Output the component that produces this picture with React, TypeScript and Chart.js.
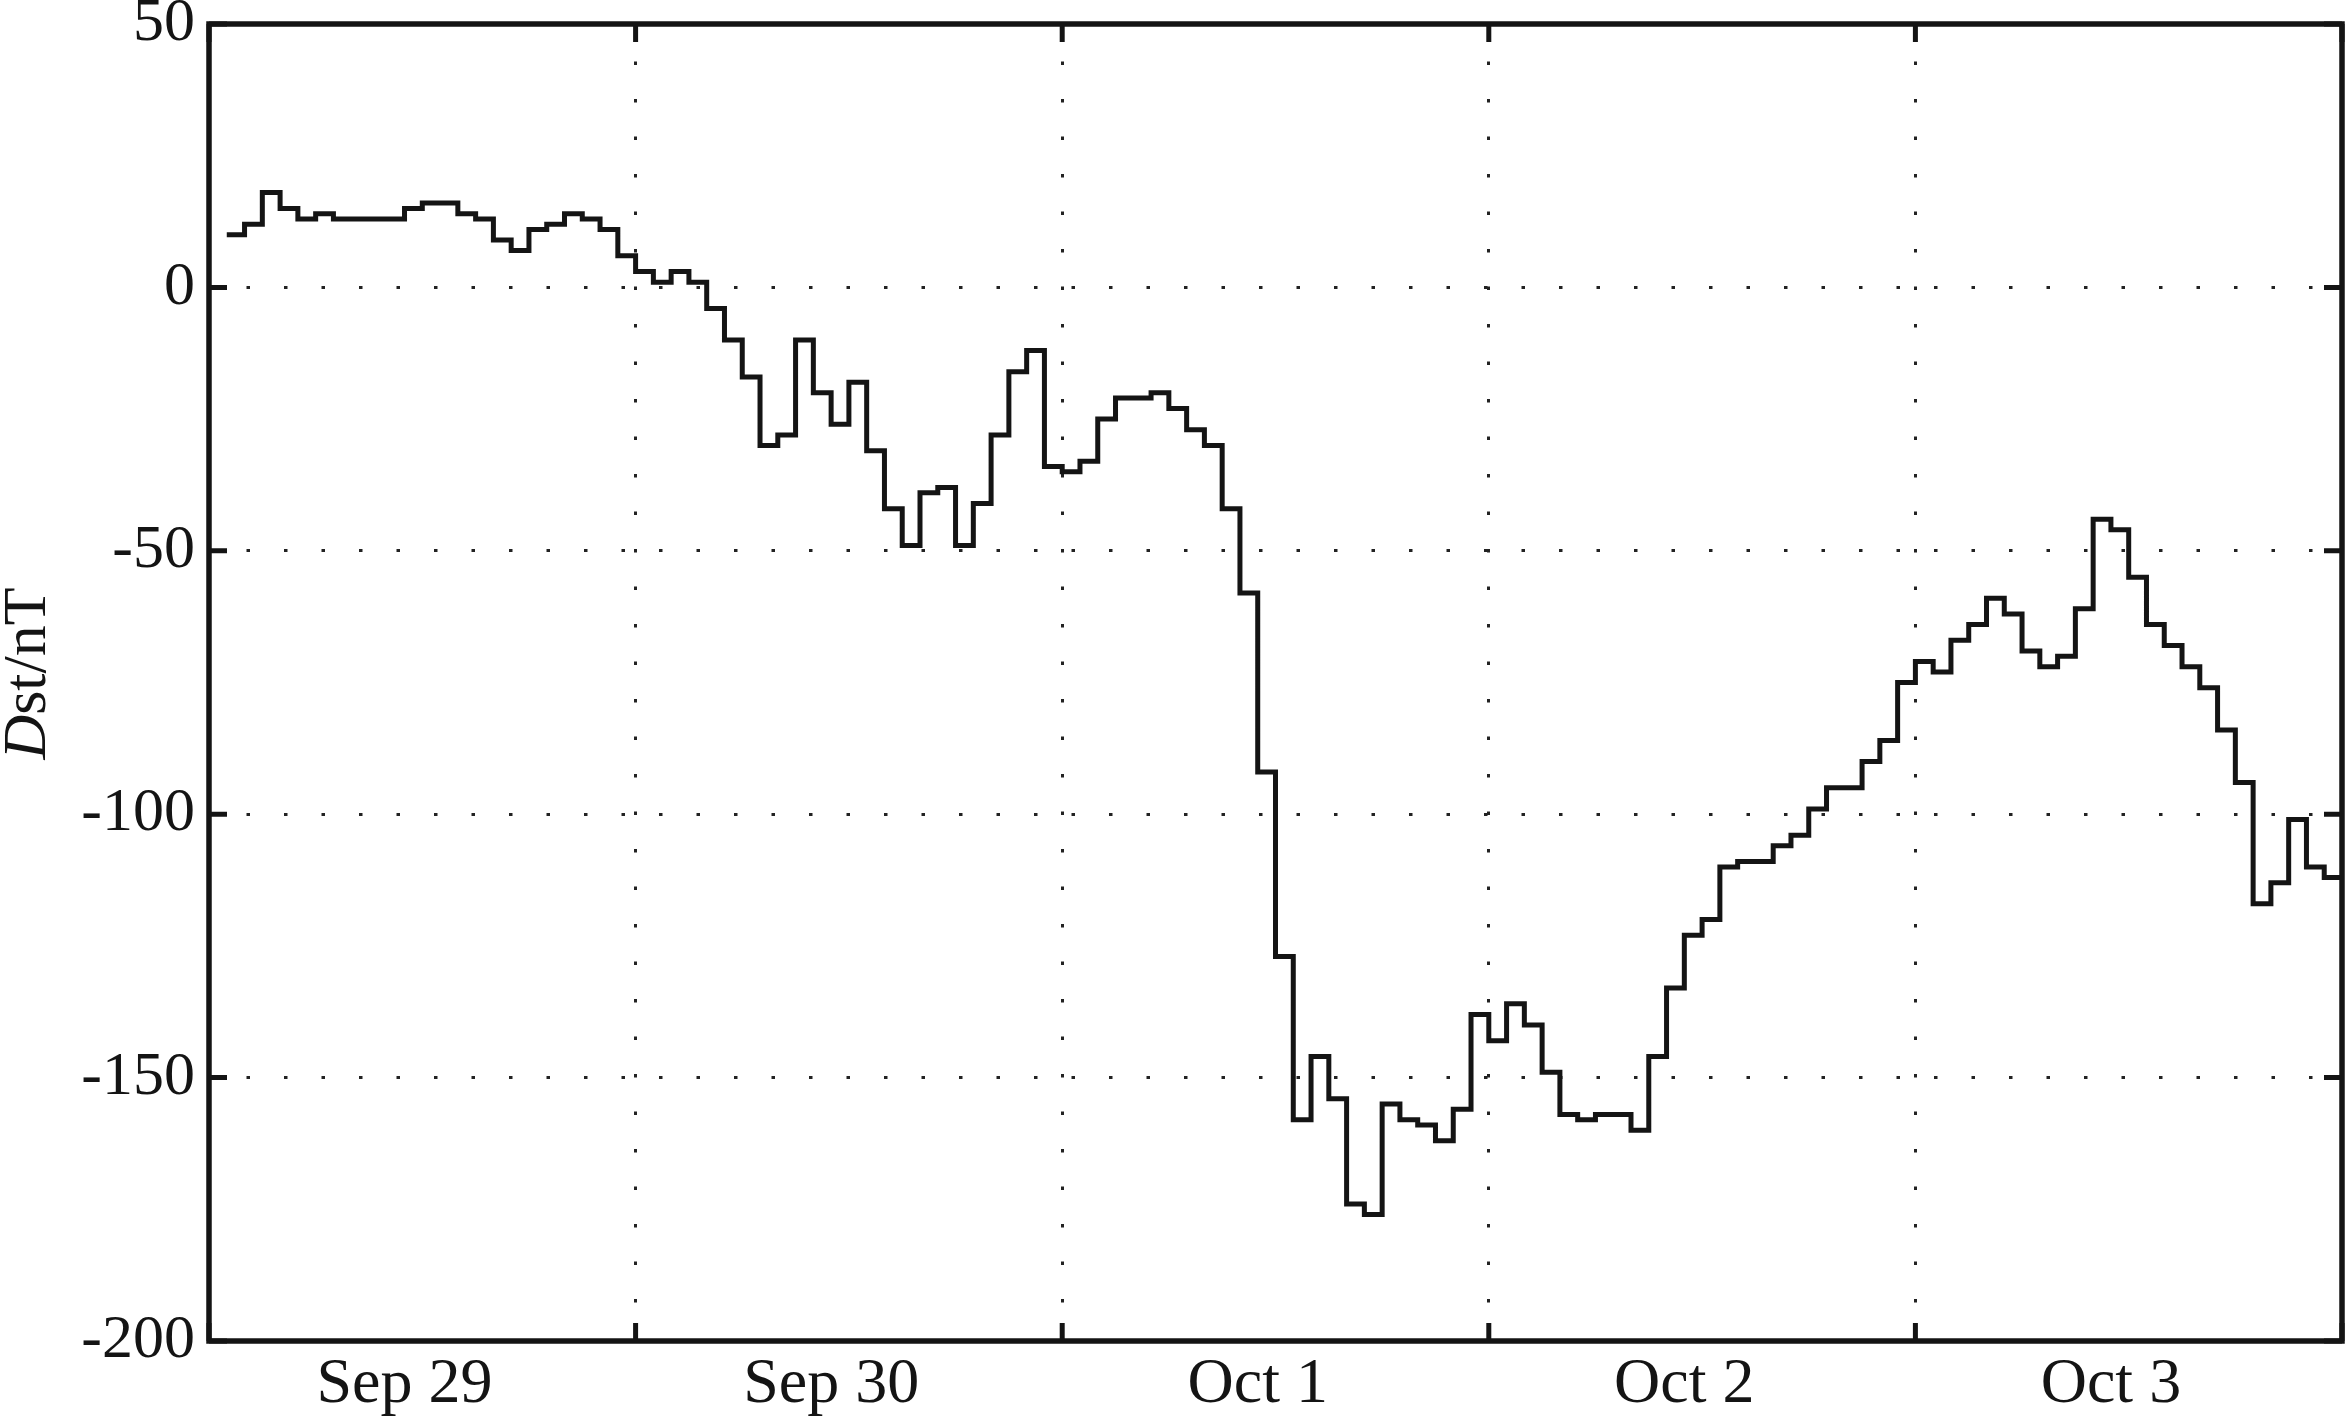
import React, { useEffect, useRef } from 'react';
import { Chart, registerables } from 'chart.js';

Chart.register(...registerables);

// ---- data ----
const dayLabels = ['Sep 29', 'Sep 30', 'Oct 1', 'Oct 2', 'Oct 3'];
const dayBoundaryHours = [0, 24, 48, 72, 96, 120];
const labelHours = [11, 35, 59, 83, 107];
const firstHour = 1;
const yTicks = [-200, -150, -100, -50, 0, 50];

// hourly Dst (nT), hour 1 .. 119, each value held for one hour
const dstValues = [
  10, 12, 18, 15, 13, 14, 13, 13, 13, 13,
  15, 16, 16, 14, 13, 9, 7, 11, 12, 14,
  13, 11, 6, 3, 1, 3, 1, -4, -10, -17,
  -30, -28, -10, -20, -26, -18, -31, -42, -49, -39,
  -38, -49, -41, -28, -16, -12, -34, -35, -33, -25,
  -21, -21, -20, -23, -27, -30, -42, -58, -92, -127,
  -158, -146, -154, -174, -176, -155, -158, -159, -162, -156,
  -138, -143, -136, -140, -149, -157, -158, -157, -157, -160,
  -146, -133, -123, -120, -110, -109, -109, -106, -104, -99,
  -95, -95, -90, -86, -75, -71, -73, -67, -64, -59,
  -62, -69, -72, -70, -61, -44, -46, -55, -64, -68,
  -72, -76, -84, -94, -117, -113, -101, -110, -112,
];

const FONT = "'Liberation Serif', 'Times New Roman', serif";
const INK = '#141414';

const framePlugin = {
  id: 'frame',
  afterDraw(chart: any) {
    const { ctx, chartArea: a, scales } = chart;
    const xs = scales.x;
    const ys = scales.y;
    ctx.save();
    ctx.strokeStyle = INK;
    ctx.lineCap = 'butt';
    ctx.lineWidth = 5;
    ctx.beginPath();
    yTicks.forEach((v) => {
      const py = ys.getPixelForValue(v);
      ctx.moveTo(a.left, py);
      ctx.lineTo(a.left + 18, py);
      ctx.moveTo(a.right, py);
      ctx.lineTo(a.right - 18, py);
    });
    dayBoundaryHours.forEach((h) => {
      const px = xs.getPixelForValue(h);
      ctx.moveTo(px, a.bottom);
      ctx.lineTo(px, a.bottom - 18);
      ctx.moveTo(px, a.top);
      ctx.lineTo(px, a.top + 18);
    });
    ctx.stroke();
    ctx.lineWidth = 5.5;
    ctx.strokeRect(a.left, a.top, a.right - a.left, a.bottom - a.top);

    // y-axis title: italic "D" + "st/nT"
    ctx.translate(45, (a.top + a.bottom) / 2 - 9);
    ctx.rotate(-Math.PI / 2);
    ctx.fillStyle = INK;
    ctx.textBaseline = 'alphabetic';
    ctx.textAlign = 'left';
    ctx.font = `italic 62px ${FONT}`;
    const wD = ctx.measureText('D').width;
    ctx.font = `62px ${FONT}`;
    const wR = ctx.measureText('st/nT').width;
    const start = -(wD + wR) / 2;
    ctx.font = `italic 62px ${FONT}`;
    ctx.fillText('D', start, 0);
    ctx.font = `62px ${FONT}`;
    ctx.fillText('st/nT', start + wD, 0);
    ctx.restore();
  },
};

export default function App() {
  const ref = useRef<HTMLCanvasElement>(null);

  useEffect(() => {
    document.body.style.margin = '0';
    const points = dstValues.map((v, i) => ({ x: firstHour + i, y: v }));
    const last = dstValues[dstValues.length - 1];
    points.push({ x: dayBoundaryHours[dayBoundaryHours.length - 1], y: last });
    const innerBoundaries = dayBoundaryHours.slice(1, -1);
    const xTickValues = [...dayBoundaryHours, ...labelHours].sort((a, b) => a - b);

    const chart = new Chart(ref.current as HTMLCanvasElement, {
      type: 'line',
      data: {
        datasets: [
          {
            label: 'Dst',
            data: points,
            borderColor: INK,
            borderWidth: 5,
            pointRadius: 0,
            stepped: true,
            fill: false,
            borderCapStyle: 'butt',
            borderJoinStyle: 'miter',
          },
        ],
      },
      options: {
        animation: false,
        responsive: false,
        devicePixelRatio: 1,
        layout: { padding: { top: 24, right: 5, left: 0, bottom: 0 } },
        plugins: { legend: { display: false }, tooltip: { enabled: false } },
        scales: {
          x: {
            type: 'linear',
            min: 0,
            max: 120,
            afterBuildTicks: (axis: any) => {
              axis.ticks = xTickValues.map((v) => ({ value: v }));
            },
            afterFit: (s: any) => {
              s.height = 79;
              s.paddingLeft = 0;
              s.paddingRight = 0;
            },
            ticks: {
              autoSkip: false,
              maxRotation: 0,
              minRotation: 0,
              padding: 6,
              color: INK,
              font: { family: FONT, size: 64 },
              callback: (value: any) => {
                const i = labelHours.indexOf(Number(value));
                return i >= 0 ? dayLabels[i] : '';
              },
            },
            grid: {
              drawTicks: false,
              lineWidth: 3,
              color: (c: any) =>
                c.tick && innerBoundaries.includes(c.tick.value) ? '#222' : 'rgba(0,0,0,0)',
            },
            border: { display: false, dash: [3.5, 34] },
          },
          y: {
            type: 'linear',
            min: yTicks[0],
            max: yTicks[yTicks.length - 1],
            afterBuildTicks: (axis: any) => {
              axis.ticks = yTicks.map((v) => ({ value: v }));
            },
            afterFit: (s: any) => {
              s.width = 209;
              s.paddingTop = 0;
              s.paddingBottom = 0;
            },
            ticks: {
              padding: 14,
              color: INK,
              font: { family: FONT, size: 62 },
            },
            grid: {
              drawTicks: false,
              lineWidth: 3,
              color: (c: any) =>
                c.tick && (c.tick.value === yTicks[0] || c.tick.value === yTicks[yTicks.length - 1])
                  ? 'rgba(0,0,0,0)'
                  : '#222',
            },
            border: { display: false, dash: [3.5, 34] },
          },
        },
      },
      plugins: [framePlugin],
    } as any);

    return () => chart.destroy();
  }, []);

  return (
    <div style={{ width: 2347, height: 1420, background: '#fff' }}>
      <canvas ref={ref} width={2347} height={1420} style={{ display: 'block', width: 2347, height: 1420 }} />
    </div>
  );
}
